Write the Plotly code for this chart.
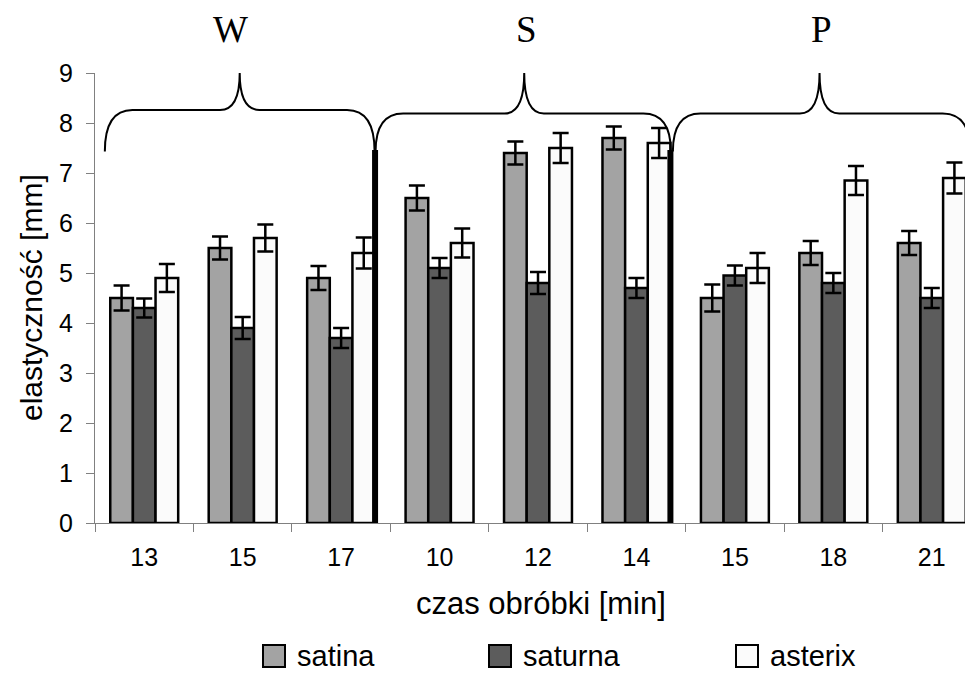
import plotly.graph_objects as go

categories = ["13", "15", "17", "10", "12", "14", "15", "18", "21"]
groups = ["W", "S", "P"]
series_names = ["satina", "saturna", "asterix"]
satina = [4.5, 5.5, 4.9, 6.5, 7.4, 7.7, 4.5, 5.4, 5.6]
saturna = [4.3, 3.9, 3.7, 5.1, 4.8, 4.7, 4.95, 4.8, 4.5]
asterix = [4.9, 5.7, 5.4, 5.6, 7.5, 7.6, 5.1, 6.85, 6.9]
satina_err = [0.25, 0.23, 0.24, 0.25, 0.23, 0.23, 0.27, 0.24, 0.24]
saturna_err = [0.19, 0.22, 0.2, 0.2, 0.22, 0.2, 0.2, 0.2, 0.2]
asterix_err = [0.28, 0.27, 0.31, 0.29, 0.3, 0.3, 0.3, 0.29, 0.31]

colors = ["#a3a3a3", "#5c5c5c", "#fbfbfb"]
xs = list(range(len(categories)))

# page layout helpers (the html body adds an 8px offset)
W_FIG, H_FIG = 973, 674
ML, MT, PH = 87, 65, 450
PW = W_FIG - ML
AX_X, AX_Y = ML + 8, MT + 8 + PH          # page pixel of plot left / bottom


def px_to_paper_x(px):
    return (px - AX_X) / PW


def px_to_paper_y(py):
    return (AX_Y - py) / PH


fig = go.Figure()
for name, vals, errs, col in zip(series_names, [satina, saturna, asterix],
                                 [satina_err, saturna_err, asterix_err], colors):
    fig.add_trace(go.Bar(
        x=xs, y=vals, name=name,
        marker=dict(color=col, line=dict(color="black", width=2.5)),
        error_y=dict(type="data", array=errs, visible=True, color="black",
                     thickness=2.5, width=8),
    ))

# group separators (right edge of last bar of each group)
half_group = 0.69 / 2
for gi in [2, 5]:
    xl = gi + half_group
    fig.add_shape(type="line", x0=xl, x1=xl, y0=-0.64, y1=7.46, xref="x", yref="y",
                  line=dict(color="black", width=6), layer="above")


# braces
def brace(xa, xb, xp, yb, yh, yt, dx=0.28, dp=0.2):
    return (f"M {xa},{yb} Q {xa},{yh} {xa+dx},{yh} L {xp-dp},{yh} "
            f"Q {xp},{yh} {xp},{yt} Q {xp},{yh} {xp+dp},{yh} L {xb-dx},{yh} "
            f"Q {xb},{yh} {xb},{yb}")


brace_specs = [(-0.40, 2.34, 0.97, 8.26), (2.35, 5.35, 3.86, 8.19), (5.37, 8.39, 6.86, 8.19)]
for xa, xb, xp, yh in brace_specs:
    fig.add_shape(type="path", path=brace(xa, xb, xp, 7.43, yh, 9.0), xref="x", yref="y",
                  line=dict(color="black", width=2), layer="above")

label_x = [0.88, 3.88, 6.88]
for g, lx in zip(groups, label_x):
    fig.add_annotation(x=lx, y=px_to_paper_y(30), xref="x", yref="paper", text=g,
                       showarrow=False, yanchor="middle",
                       font=dict(family="Liberation Serif", size=37, color="black"))

# axis titles
fig.add_annotation(x=px_to_paper_x(541), y=px_to_paper_y(603), xref="paper", yref="paper",
                   text="czas obróbki [min]", showarrow=False, yanchor="middle",
                   font=dict(family="Liberation Sans", size=31, color="black"))
fig.add_annotation(x=px_to_paper_x(31), y=0.5, xref="paper", yref="paper",
                   text="elastyczność [mm]", showarrow=False, textangle=-90,
                   xanchor="center", yanchor="middle",
                   font=dict(family="Liberation Sans", size=30, color="black"))

# legend drawn below the axis
legend_sq_left = [263, 489, 736]
SQ = 22
leg_cy = 656
for name, col, lx in zip(series_names, colors, legend_sq_left):
    fig.add_shape(type="rect", xref="paper", yref="paper",
                  x0=px_to_paper_x(lx), x1=px_to_paper_x(lx + SQ),
                  y0=px_to_paper_y(leg_cy + SQ / 2), y1=px_to_paper_y(leg_cy - SQ / 2),
                  fillcolor=col, line=dict(color="black", width=2))
    fig.add_annotation(x=px_to_paper_x(lx + SQ + 10), y=px_to_paper_y(leg_cy),
                       xref="paper", yref="paper", text=name, showarrow=False,
                       xanchor="left", yanchor="middle",
                       font=dict(family="Liberation Sans", size=29, color="black"))

fig.update_layout(
    width=W_FIG, height=H_FIG,
    margin=dict(l=ML, r=0, t=MT, b=H_FIG - MT - PH, autoexpand=False),
    paper_bgcolor="white", plot_bgcolor="white",
    barmode="group", bargap=0.31, bargroupgap=0,
    font=dict(family="Liberation Sans", size=25, color="black"),
    showlegend=False,
    xaxis=dict(range=[-0.5, 8.5], tickvals=xs, ticktext=categories, ticks="",
               showline=True, linecolor="#808080", linewidth=1, showgrid=False,
               zeroline=False, ticklabelstandoff=12,
               minor=dict(tick0=0.5, dtick=1, ticks="outside", ticklen=8,
                          tickcolor="#808080", showgrid=False)),
    yaxis=dict(range=[0, 9], dtick=1, ticks="outside", ticklen=8, tickcolor="#808080",
               showline=True, linecolor="#808080", linewidth=1, showgrid=False,
               zeroline=False, ticklabelstandoff=8),
)

fig.write_html("out.html")
